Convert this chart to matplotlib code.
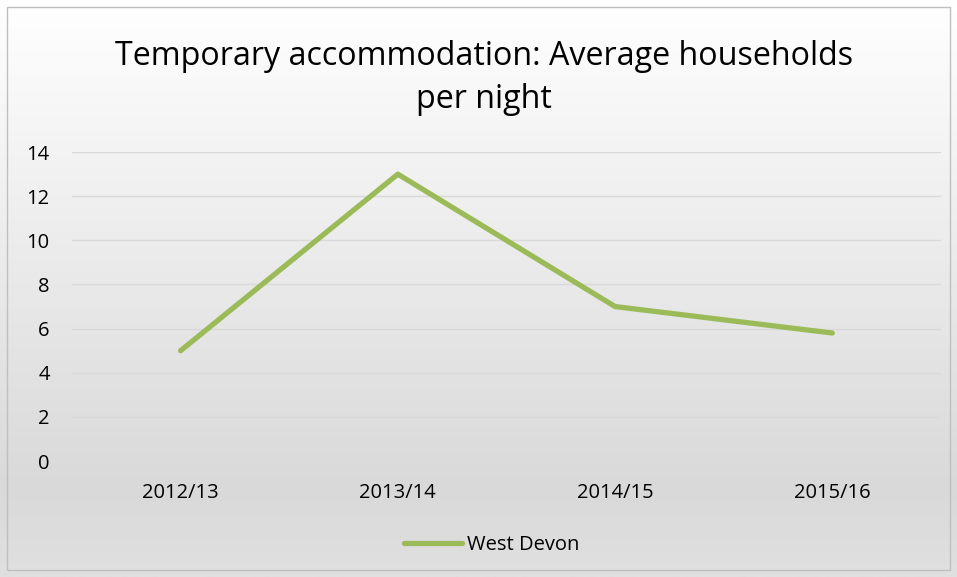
import numpy as np
import matplotlib.pyplot as plt
from matplotlib.colors import LinearSegmentedColormap
from matplotlib.patches import Rectangle

years = ["2012/13", "2013/14", "2014/15", "2015/16"]
west_devon = [5, 13, 7, 5.8]
y_ticks = [0, 2, 4, 6, 8, 10, 12, 14]

plt.rcParams['font.family'] = ['Open Sans', 'DejaVu Sans']

fig = plt.figure(figsize=(9.57, 5.77), dpi=100)

# gradient background for the chart area
bg = fig.add_axes([0, 0, 1, 1], zorder=-10)
cmap = LinearSegmentedColormap.from_list(
    "bg", [(0, "#ffffff"), (0.85, "#d9d9d9"), (1, "#e0e0e0")])
grad = np.linspace(0, 1, 256).reshape(-1, 1)
bg.imshow(grad, cmap=cmap, aspect='auto', extent=[0, 1, 0, 1])
bg.add_patch(Rectangle((7 / 957, 7 / 577), 943 / 957, 563 / 577,
                       fill=False, edgecolor="#bfbfbf", lw=1))
bg.set_xlim(0, 1)
bg.set_ylim(0, 1)
bg.axis('off')

ax = fig.add_axes([0.0752, 0.201, 0.908, 0.5354])
ax.patch.set_alpha(0)
x = np.arange(len(years))
ax.plot(x, west_devon, color="#9bbb59", lw=3.8, solid_capstyle='round',
        solid_joinstyle='round', label="West Devon")

ax.set_xlim(-0.5, len(years) - 0.5)
ax.set_ylim(0, 14)
ax.set_yticks(y_ticks)
ax.set_xticks(x)
ax.set_xticklabels(years)
ax.tick_params(length=0, labelsize=14.5, colors="#000000")
ax.tick_params(axis='y', pad=16)
ax.tick_params(axis='x', pad=16)
ax.grid(axis='y', color="#d9d9d9", lw=1)
ax.set_axisbelow(True)
for s in ax.spines.values():
    s.set_visible(False)

fig.text(0.506, 0.865, "Temporary accommodation: Average households\nper night",
         ha='center', va='center', fontsize=23.2, linespacing=1.38)

leg = fig.legend(loc='center', bbox_to_anchor=(0.514, 0.055), frameon=False,
                 fontsize=14.5, handlelength=2.9, handletextpad=0.25)

fig.savefig("out.png", dpi=100)
